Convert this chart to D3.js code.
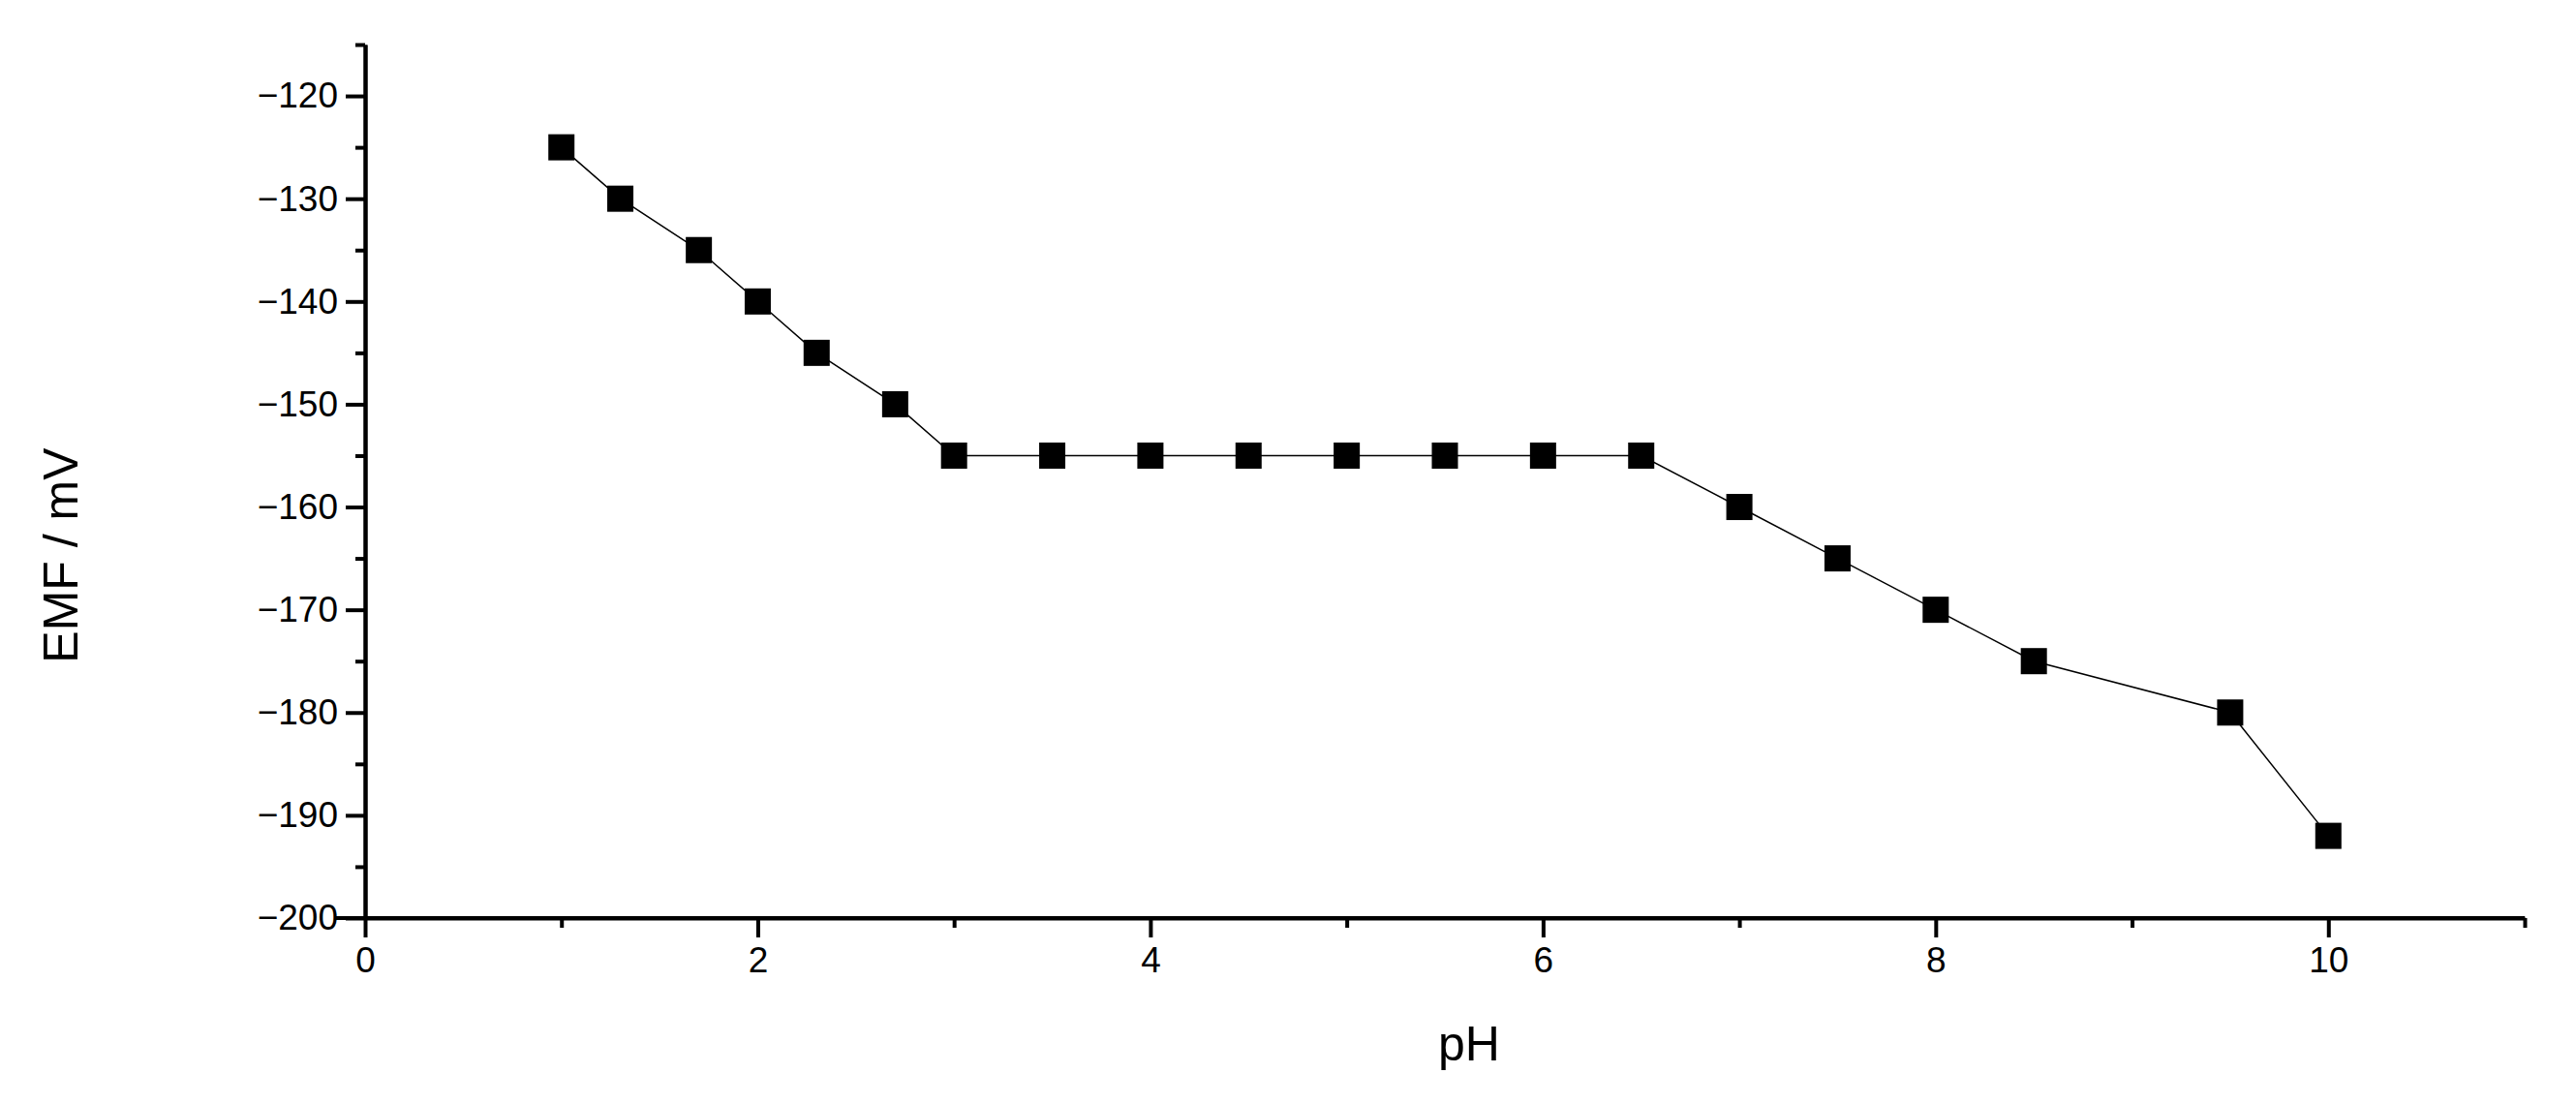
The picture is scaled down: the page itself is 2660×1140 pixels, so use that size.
<!DOCTYPE html>
<html>
<head>
<meta charset="utf-8">
<script src="https://cdn.jsdelivr.net/npm/d3@7"></script>
<style>
  body { margin: 0; background: #fff; }
  text { font-family: "Liberation Sans", Arial, sans-serif; fill: #000; }
</style>
</head>
<body>
<div id="chart"></div>
<script>
const phValues = [1, 1.3, 1.7, 2, 2.3, 2.7, 3, 3.5, 4, 4.5, 5, 5.5, 6, 6.5, 7, 7.5, 8, 8.5, 9.5, 10];
const emfValues = [-125, -130, -135, -140, -145, -150, -155, -155, -155, -155, -155, -155, -155, -155, -160, -165, -170, -175, -180, -192];
const xMajorTicks = [0, 2, 4, 6, 8, 10];
const xMinorTicks = [1, 3, 5, 7, 9, 11];
const yMajorTicks = [-200, -190, -180, -170, -160, -150, -140, -130, -120];
const yMinorTicks = [-195, -185, -175, -165, -155, -145, -135, -125, -115];

const width = 2660;
const height = 1140;
const plotLeft = 377, plotRight = 2607, plotTop = 46, plotBottom = 948;

const svg = d3.select('#chart').append('svg')
  .attr('width', width)
  .attr('height', height);

const x = d3.scaleLinear().domain([0, 11]).range([plotLeft, plotRight]);
const y = d3.scaleLinear().domain([-200, -115]).range([plotBottom, plotTop]);

/* Axes
-----------------------------------------------------------------------------*/
function styleAxis(g) {
  g.select('.domain').attr('stroke-width', 4).attr('stroke', '#000');
  g.selectAll('.tick line').attr('stroke-width', 4).attr('stroke', '#000');
  g.selectAll('.tick text').style('font-size', '37px');
}

svg.append('g')
  .attr('transform', `translate(0,${plotBottom})`)
  .call(d3.axisBottom(x).tickValues(xMinorTicks).tickSize(10).tickSizeOuter(0).tickFormat(''))
  .call(styleAxis);
svg.append('g')
  .attr('transform', `translate(0,${plotBottom})`)
  .call(d3.axisBottom(x).tickValues(xMajorTicks).tickSize(20).tickSizeOuter(0).tickPadding(10))
  .call(styleAxis)
  .select('.domain').attr('d', `M${plotLeft - 30},0H${plotRight}`);

svg.append('g')
  .attr('transform', `translate(${plotLeft},0)`)
  .call(d3.axisLeft(y).tickValues(yMinorTicks).tickSize(10).tickSizeOuter(0).tickFormat(''))
  .call(styleAxis);
svg.append('g')
  .attr('transform', `translate(${plotLeft},0)`)
  .call(d3.axisLeft(y).tickValues(yMajorTicks).tickSize(20).tickSizeOuter(0).tickPadding(8))
  .call(styleAxis);

svg.append('text')
  .attr('x', (x(0) + x(11)) / 2 + 25)
  .attr('y', 1095)
  .attr('text-anchor', 'middle')
  .style('font-size', '50px')
  .text('pH');

svg.append('text')
  .attr('transform', `translate(80,${y(-160) + 50}) rotate(-90)`)
  .attr('text-anchor', 'middle')
  .style('font-size', '50px')
  .text('EMF / mV');

/* Data
-----------------------------------------------------------------------------*/
const points = phValues.map((p, i) => [p, emfValues[i]]);

svg.append('path')
  .attr('fill', 'none')
  .attr('stroke', '#000')
  .attr('stroke-width', 1.5)
  .attr('d', d3.line().x((d) => x(d[0])).y((d) => y(d[1]))(points));

const size = 27;
svg.append('g').selectAll('rect')
  .data(points)
  .join('rect')
  .attr('x', (d) => x(d[0]) - size / 2)
  .attr('y', (d) => y(d[1]) - size / 2)
  .attr('width', size)
  .attr('height', size)
  .attr('fill', '#000');
</script>
</body>
</html>
